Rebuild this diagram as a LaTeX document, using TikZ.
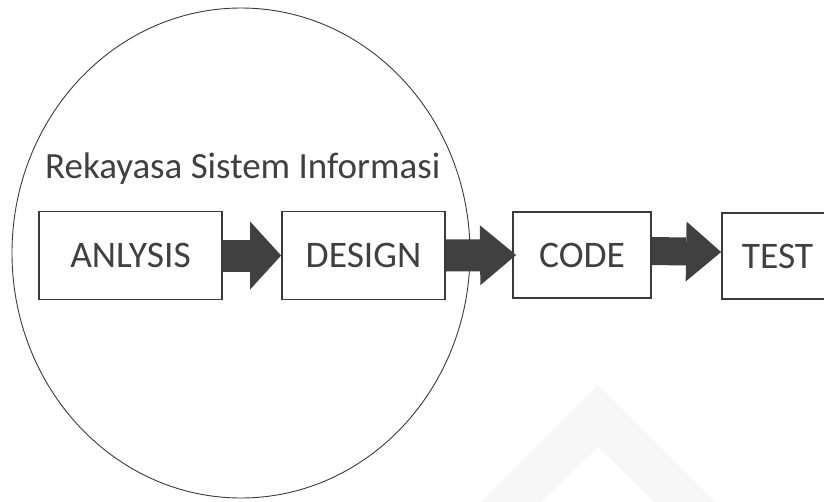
\documentclass[tikz,border=0pt]{standalone}
\usepackage{fontspec}
\setmainfont{Carlito}
\usetikzlibrary{arrows.meta,shapes.geometric}
\definecolor{ink}{HTML}{404040}
\definecolor{boxline}{HTML}{3A3A3A}
\definecolor{wm}{HTML}{F7F7F7}
\tikzset{
  stepbox/.style={draw=boxline, line width=1.8pt, fill=white, minimum height=88pt, inner sep=0pt, font=\fontsize{37.5pt}{40pt}\selectfont, text=ink},
  blockarrow/.style={draw=ink, line width=32pt, line cap=butt},
}
\begin{document}
\begin{tikzpicture}[x=1pt,y=-1pt]
\useasboundingbox (0,0) rectangle (824,501);
\clip (0,0) rectangle (824,501);
% faint watermark
\fill[wm] (598,385) -- (740,527) -- (680,527) -- (598,447) -- (516,527) -- (456,527) -- cycle;
% scope ellipse
\node[ellipse, draw=boxline, line width=0.9pt, minimum width=458pt, minimum height=490pt, inner sep=0pt] (scope) at (241,253) {};
\node[anchor=base west, text=ink, font=\fontsize{37pt}{40pt}\selectfont, inner sep=0pt] (title) at (45,178) {Rekayasa Sistem Informasi};
% boxes
\node[stepbox, minimum width=183pt] (analysis) at (130.5,255.5) {ANLYSIS};
\node[stepbox, minimum width=163pt] (design) at (363.5,255.5) {DESIGN};
\node[stepbox, minimum width=138pt, minimum height=86pt] (code) at (582,255) {CODE};
\node[stepbox, minimum width=111pt, minimum height=86pt] (test) at (777.5,256) {TEST};
% arrows
\draw[blockarrow, -{Triangle[length=31pt,width=68pt,line width=0pt]}] (analysis.east) -- (design.west);
\draw[blockarrow, -{Triangle[length=36pt,width=60pt,line width=0pt]}] (design.east) -- ([xshift=4pt]code.west);
\draw[blockarrow, line width=28pt, -{Triangle[length=35pt,width=60pt,line width=0pt]}] ([yshift=4pt]code.east) -- ([yshift=4pt]test.west);
\end{tikzpicture}
\end{document}
